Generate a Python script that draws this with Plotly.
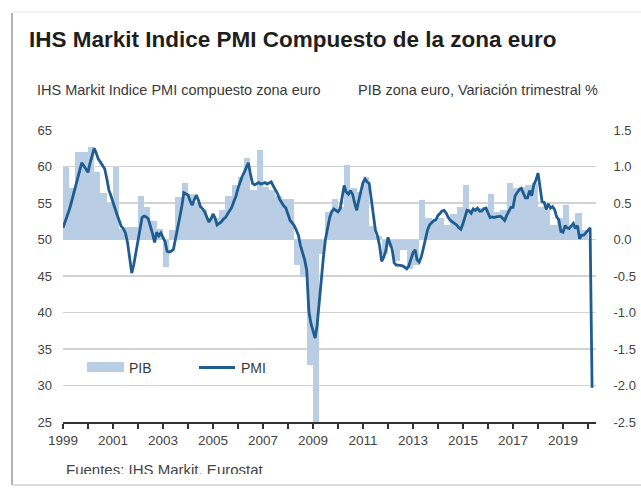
import plotly.graph_objects as go
import pandas as pd

W, H = 641, 488

# ---------------- data ----------------
pmi_values = [
    51.6, 52.4, 53.2, 54.0, 55.0, 56.2, 57.2, 58.3, 59.4, 60.5, 60.1, 59.6,  # 1999
    59.2, 60.5, 61.6, 62.5, 61.8, 61.0, 60.6, 60.2, 59.7, 58.4, 56.8, 56.0,  # 2000
    55.0, 54.3, 53.4, 52.6, 51.8, 51.5, 50.9, 49.6, 47.6, 45.4, 46.6, 48.3,  # 2001
    49.6, 51.3, 53.0, 53.2, 53.1, 52.8, 51.9, 50.8, 49.6, 51.0, 50.5, 50.9,  # 2002
    50.3, 49.7, 48.4, 48.3, 48.4, 48.6, 50.0, 51.5, 52.7, 54.4, 56.4, 56.3,  # 2003
    56.1, 55.3, 54.7, 55.4, 56.1, 55.4, 54.5, 54.2, 53.8, 53.1, 52.4, 52.8,  # 2004
    53.5, 52.9, 52.0, 52.2, 52.4, 52.8, 53.0, 53.5, 53.9, 54.4, 55.2, 55.9,  # 2005
    57.0, 58.0, 58.6, 59.2, 59.8, 60.5, 59.0, 57.7, 57.5, 57.7, 57.8, 57.6,  # 2006
    57.7, 57.8, 57.6, 57.7, 57.9, 57.3, 56.8, 56.3, 55.5, 55.0, 54.6, 54.3,  # 2007
    53.5, 52.6, 52.3, 51.9, 51.3, 50.6, 49.2, 48.2, 47.2, 45.8, 40.2, 38.5,  # 2008
    37.6, 36.5, 38.2, 41.5, 44.5, 47.5, 50.0, 51.8, 53.0, 53.8, 54.2, 54.0,  # 2009
    53.8, 54.2, 55.8, 57.4, 56.5, 56.2, 56.7, 56.2, 55.0, 54.0, 55.4, 56.8,  # 2010
    57.8, 58.3, 57.9, 57.7, 55.8, 53.3, 51.3, 50.5, 49.1, 47.0, 47.6, 48.5,  # 2011
    50.3, 49.4, 48.7, 46.8, 46.5, 46.5, 46.5, 46.4, 46.2, 46.0, 46.4, 47.4,  # 2012
    48.2, 48.6, 47.2, 46.9, 47.6, 48.8, 50.0, 51.3, 52.0, 52.3, 52.6, 52.7,  # 2013
    53.3, 53.6, 53.9, 54.0, 53.6, 53.0, 52.6, 52.4, 52.2, 52.0, 51.6, 51.4,  # 2014
    52.2, 53.3, 54.0, 53.9, 53.6, 54.2, 54.0, 54.3, 53.9, 53.9, 54.2, 54.3,  # 2015
    53.6, 53.0, 53.1, 53.0, 53.1, 53.1, 53.2, 52.9, 52.6, 53.3, 53.9, 54.4,  # 2016
    54.4, 56.0, 56.4, 56.8, 57.0, 56.3, 55.7, 55.7, 56.7, 56.0, 57.5, 58.1,  # 2017
    59.1, 57.1, 55.2, 55.1, 54.1, 54.9, 54.3, 54.5, 54.1, 53.1, 52.7, 51.1,  # 2018
    51.0, 51.9, 51.6, 51.5, 51.8, 52.2, 51.5, 51.9, 50.1, 50.6, 50.6, 50.9,  # 2019
    51.3, 51.6, 29.7,                                                        # 2020
]

pib_values = [
    1.0, 0.7, 1.2, 1.2,        # 1999
    1.27, 0.92, 0.64, 0.5,     # 2000
    1.0, 0.15, 0.17, 0.17,     # 2001
    0.6, 0.45, 0.25, 0.15,     # 2002
    -0.38, 0.13, 0.58, 0.78,   # 2003
    0.62, 0.5, 0.4, 0.3,       # 2004
    0.3, 0.4, 0.6, 0.75,       # 2005
    0.85, 1.12, 0.68, 1.23,    # 2006
    0.72, 0.68, 0.6, 0.55,     # 2007
    0.55, -0.35, -0.52, -1.72, # 2008
    -2.8, -0.2, 0.38, 0.55,    # 2009
    0.45, 1.02, 0.7, 0.65,     # 2010
    0.85, 0.18, 0.05, -0.2,    # 2011
    -0.1, -0.3, -0.15, -0.4,   # 2012
    -0.35, 0.54, 0.3, 0.25,    # 2013
    0.3, 0.2, 0.35, 0.45,      # 2014
    0.75, 0.42, 0.43, 0.45,    # 2015
    0.63, 0.37, 0.4, 0.78,     # 2016
    0.7, 0.72, 0.75, 0.78,     # 2017
    0.44, 0.4, 0.2, 0.3,       # 2018
    0.47, 0.2, 0.36, 0.13,     # 2019
]

tick_years = list(range(1999, 2021))
tick_labels = [str(y) if y % 2 == 1 else "" for y in tick_years]
pmi_ticks = [25, 30, 35, 40, 45, 50, 55, 60, 65]
pib_ticks = [-2.5, -2.0, -1.5, -1.0, -0.5, 0.0, 0.5, 1.0, 1.5]

title_text = "IHS Markit Indice PMI Compuesto de la zona euro"
left_sub = "IHS Markit Indice PMI compuesto zona euro"
right_sub = "PIB zona euro, Variación trimestral %"
source_text = "Fuentes: IHS Markit, Eurostat"

pmi_dates = pd.date_range("1999-01-01", periods=len(pmi_values), freq="MS")
pib_dates = pd.date_range("1999-01-01", periods=len(pib_values), freq="QS")

# ---------------- styling ----------------
FONT = "Liberation Sans, Arial, sans-serif"
BAR_COLOR = "#b9cde5"
LINE_COLOR = "#1f5c90"
TEXT_COLOR = "#3a3a3a"


def fx(px):
    return px / W


def fy(py):
    return 1 - py / H


fig = go.Figure()

fig.add_trace(go.Bar(
    x=pib_dates, y=pib_values, name="PIB",
    xperiod="M3", xperiod0="1999-01-01", xperiodalignment="middle",
    width=92 * 24 * 3600 * 1000,
    marker=dict(color=BAR_COLOR, line=dict(width=0)),
    xaxis="x", yaxis="y", hoverinfo="skip",
))

fig.add_trace(go.Scatter(
    x=pmi_dates, y=pmi_values, name="PMI", mode="lines",
    line=dict(color=LINE_COLOR, width=2.8),
    xaxis="x", yaxis="y2", hoverinfo="skip",
))

# footer text, clipped at its lower part like in the source image
fig.add_trace(go.Scatter(
    x=[fx(66)], y=[0.16], mode="text", text=[source_text],
    textposition="middle right",
    textfont=dict(family=FONT, size=15, color="#444444"),
    cliponaxis=True, xaxis="x3", yaxis="y3", hoverinfo="skip",
))

fig.update_layout(
    width=W, height=H,
    margin=dict(l=0, r=0, t=0, b=0, autoexpand=False),
    paper_bgcolor="white", plot_bgcolor="white",
    showlegend=False, bargap=0,
    font=dict(family=FONT, color=TEXT_COLOR),
    xaxis=dict(
        domain=[fx(63), fx(595.5)], type="date",
        range=["1999-01-01", "2020-04-20"],
        tickvals=[f"{y}-01-01" for y in tick_years], ticktext=tick_labels,
        ticks="outside", ticklen=5, tickwidth=1.3, tickcolor="#333333",
        showline=True, linecolor="#333333", linewidth=1.6,
        showgrid=False, zeroline=False, automargin=False,
        tickfont=dict(family=FONT, size=13.5, color="#444444"),
        ticklabelstandoff=0, anchor="y",
    ),
    yaxis=dict(
        domain=[fy(422), fy(130)], range=[-2.5, 1.5],
        tickvals=pib_ticks, ticktext=[f"{v:.1f}" for v in pib_ticks],
        side="right", showgrid=True, gridcolor="#d2d2d2", gridwidth=1.6,
        zeroline=False, showline=False, ticks="", automargin=False,
        tickfont=dict(family=FONT, size=13, color="#444444"),
        ticklabelstandoff=17, anchor="x",
    ),
    yaxis2=dict(
        range=[25, 65], tickvals=pmi_ticks,
        overlaying="y", side="left", showgrid=False, zeroline=False,
        showline=False, ticks="", automargin=False,
        tickfont=dict(family=FONT, size=13, color="#444444"),
        ticklabelstandoff=10, anchor="x",
    ),
    xaxis3=dict(domain=[0, 1], range=[0, 1], visible=False, anchor="y3",
                fixedrange=True, automargin=False),
    yaxis3=dict(domain=[fy(474), fy(455)], range=[0, 1], visible=False,
                anchor="x3", fixedrange=True, automargin=False),
)

# frame of the source screenshot
fig.add_shape(type="line", xref="paper", yref="paper",
              x0=fx(12), x1=fx(12), y0=fy(13), y1=fy(485),
              line=dict(color="#b3b3b3", width=2))
fig.add_shape(type="line", xref="paper", yref="paper",
              x0=fx(12), x1=1, y0=fy(12), y1=fy(12),
              line=dict(color="#e6e6e6", width=1))
fig.add_shape(type="line", xref="paper", yref="paper",
              x0=fx(12), x1=1, y0=fy(485), y1=fy(485),
              line=dict(color="#d0d0d0", width=1.5))

# legend (drawn inside the plot)
fig.add_shape(type="rect", xref="paper", yref="paper",
              x0=fx(87), x1=fx(124), y0=fy(372), y1=fy(362),
              fillcolor=BAR_COLOR, line=dict(width=0))
fig.add_shape(type="line", xref="paper", yref="paper",
              x0=fx(199), x1=fx(235), y0=fy(367.5), y1=fy(367.5),
              line=dict(color=LINE_COLOR, width=3))

annotations = [
    dict(text="<b>" + title_text + "</b>", x=fx(27), y=fy(40),
         font=dict(family=FONT, size=22.5, color="#1e1e1e")),
    dict(text=left_sub, x=fx(35), y=fy(90),
         font=dict(family=FONT, size=14.5, color=TEXT_COLOR)),
    dict(text=right_sub, x=fx(356), y=fy(90),
         font=dict(family=FONT, size=14.5, color=TEXT_COLOR)),
    dict(text="PIB", x=fx(127), y=fy(367.5),
         font=dict(family=FONT, size=14, color=TEXT_COLOR)),
    dict(text="PMI", x=fx(239), y=fy(367.5),
         font=dict(family=FONT, size=14, color=TEXT_COLOR)),
]
for a in annotations:
    fig.add_annotation(xref="paper", yref="paper", xanchor="left",
                       yanchor="middle", showarrow=False, **a)

fig.write_html(
    "out.html",
    config={"displayModeBar": False, "staticPlot": True},
    post_script="document.body.style.margin='0';document.body.style.overflow='hidden';",
)
